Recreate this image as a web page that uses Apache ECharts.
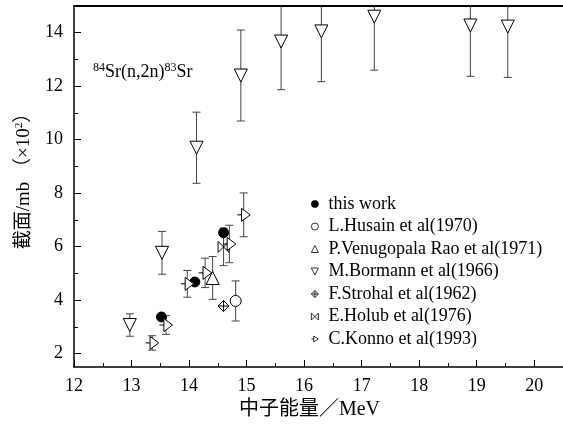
<!DOCTYPE html>
<html>
<head>
<meta charset="utf-8">
<script src="https://cdn.jsdelivr.net/npm/echarts@6/dist/echarts.min.js"></script>
<style>
  html, body { margin: 0; padding: 0; background: #fff; }
  #main { width: 563px; height: 426px; }
</style>
</head>
<body>
<div id="main"></div>
<script>
// energies (MeV), cross sections (x100 mb), errors
var thisWorkE = [13.52, 14.10, 14.60];
var thisWorkS = [3.37, 4.68, 6.52];
var thisWorkErr = [0, 0, 0];

var husainE = [14.81];
var husainS = [3.97];
var husainErr = [0.75];

var raoE = [14.41];
var raoS = [4.83];
var raoErr = [0.8];

var bormannE = [12.97, 13.53, 14.13, 14.90, 15.60, 16.30, 17.22, 18.89, 19.54];
var bormannS = [3.07, 5.77, 9.70, 12.40, 13.67, 14.05, 14.60, 14.27, 14.23];
var bormannErr = [0.42, 0.80, 1.33, 1.70, 1.80, 1.88, 2.00, 1.90, 1.90];

var strohalE = [14.60];
var strohalS = [3.78];
var strohalErr = [0];

var holubE = [14.60];
var holubS = [5.99];
var holubErr = [0.70];

var konnoE = [13.36, 13.60, 13.97, 14.28, 14.70, 14.95];
var konnoS = [2.40, 3.07, 4.61, 5.02, 6.10, 7.19];
var konnoErr = [0.27, 0.35, 0.50, 0.55, 0.70, 0.82];

var names = ['this work', 'L.Husain et al(1970)', 'P.Venugopala Rao et al(1971)',
  'M.Bormann et al(1966)', 'F.Strohal et al(1962)', 'E.Holub et al(1976)', 'C.Konno et al(1993)'];

var xMajor = [12, 13, 14, 15, 16, 17, 18, 19, 20];
var xMinor = [12.5, 13.5, 14.5, 15.5, 16.5, 17.5, 18.5, 19.5];
var yMajor = [2, 4, 6, 8, 10, 12, 14];
var yMinor = [3, 5, 7, 9, 11, 13];

var serif = '"Liberation Serif", "Noto Sans CJK SC", serif';

function pts(E, S) {
  return E.map((e, i) => [e, S[i]]);
}

var errData = [];
[[thisWorkE, thisWorkS, thisWorkErr], [husainE, husainS, husainErr], [raoE, raoS, raoErr],
 [bormannE, bormannS, bormannErr], [strohalE, strohalS, strohalErr], [holubE, holubS, holubErr],
 [konnoE, konnoS, konnoErr]].forEach(set => {
  set[0].forEach((e, i) => {
    if (set[2][i] > 0) errData.push([e, set[1][i] - set[2][i], set[1][i] + set[2][i]]);
  });
});

function renderErr(params, api) {
  var x = api.value(0);
  var lo = api.coord([x, api.value(1)]);
  var hi = api.coord([x, api.value(2)]);
  var w = 4;
  var st = { stroke: '#444', lineWidth: 1 };
  return {
    type: 'group',
    children: [
      { type: 'line', shape: { x1: hi[0], y1: hi[1], x2: lo[0], y2: lo[1] }, style: st },
      { type: 'line', shape: { x1: hi[0] - w, y1: hi[1], x2: hi[0] + w, y2: hi[1] }, style: st },
      { type: 'line', shape: { x1: lo[0] - w, y1: lo[1], x2: lo[0] + w, y2: lo[1] }, style: st }
    ]
  };
}

function scatter(name, data, symbol, size, fill) {
  return {
    name: name,
    type: 'scatter',
    data: data,
    symbol: symbol,
    symbolSize: size,
    itemStyle: { color: fill, borderColor: '#000', borderWidth: 1, opacity: 1 },
    z: 3
  };
}

var myChart = echarts.init(document.getElementById('main'));

var axisLine = { show: true, lineStyle: { color: '#000', width: 1.5 } };

var option = {
  animation: false,
  backgroundColor: '#fff',
  grid: { left: 74, top: 6, width: 493, height: 361 },
  graphic: [{
    type: 'text',
    left: 93,
    top: 62,
    style: {
      text: '{s|84}{n|Sr(n,2n)}{s|83}{n|Sr}',
      rich: {
        n: { fontSize: 18, fontFamily: serif, fill: '#000' },
        s: { fontSize: 12, fontFamily: serif, fill: '#000', padding: [0, 0, 9, 0] }
      }
    }
  }],
  legend: {
    orient: 'vertical',
    left: 306,
    top: 189,
    itemWidth: 7,
    itemHeight: 7,
    itemGap: 2.5,
    data: names,
    itemStyle: { borderWidth: 0.8 },
    textStyle: { fontSize: 18, fontFamily: serif, color: '#000', lineHeight: 20, padding: [0, 0, 0, 5] }
  },
  xAxis: [{
    type: 'value',
    min: 12,
    max: 20.5,
    position: 'bottom',
    name: '中子能量／MeV',
    nameLocation: 'middle',
    nameGap: 33,
    nameTextStyle: { fontSize: 20, fontFamily: serif, color: '#000', padding: [0, 18, 0, 0] },
    axisLine: axisLine,
    axisTick: { show: true, inside: true, length: 7, customValues: xMajor, lineStyle: { color: '#000' } },
    axisLabel: { customValues: xMajor, fontSize: 18, fontFamily: serif, color: '#000', margin: 10 },
    splitLine: { show: false }
  }, {
    type: 'value',
    min: 12,
    max: 20.5,
    position: 'bottom',
    axisLine: { show: false },
    axisTick: { show: true, inside: true, length: 4, customValues: xMinor, lineStyle: { color: '#000' } },
    axisLabel: { show: false },
    splitLine: { show: false }
  }, {
    type: 'value',
    min: 12,
    max: 20.5,
    position: 'top',
    axisLine: { show: true, lineStyle: { color: '#000', width: 2 } },
    axisTick: { show: false },
    axisLabel: { show: false },
    splitLine: { show: false }
  }],
  yAxis: [{
    type: 'value',
    min: 1.5,
    max: 15,
    position: 'left',
    name: '截面/mb （×10{s|2}）',
    nameLocation: 'middle',
    nameRotate: 90,
    nameGap: 40,
    nameTextStyle: {
      fontSize: 19, fontFamily: serif, color: '#000', padding: [0, 0, 0, 20],
      rich: { s: { fontSize: 11, fontFamily: serif, color: '#000', padding: [0, 0, 9, 0] } }
    },
    axisLine: axisLine,
    axisTick: { show: true, inside: true, length: 7, customValues: yMajor, lineStyle: { color: '#000' } },
    axisLabel: { customValues: yMajor, fontSize: 18, fontFamily: serif, color: '#000', margin: 11 },
    splitLine: { show: false }
  }, {
    type: 'value',
    min: 1.5,
    max: 15,
    position: 'left',
    axisLine: { show: false },
    axisTick: { show: true, inside: true, length: 4, customValues: yMinor, lineStyle: { color: '#000' } },
    axisLabel: { show: false },
    splitLine: { show: false }
  }],
  series: [
    {
      name: 'err',
      type: 'custom',
      renderItem: renderErr,
      data: errData,
      clip: true,
      encode: { x: 0, y: [1, 2] },
      z: 2
    },
    scatter(names[0], pts(thisWorkE, thisWorkS), 'circle', 10, '#000'),
    scatter(names[1], pts(husainE, husainS), 'circle', 11, '#fff'),
    scatter(names[2], pts(raoE, raoS), 'path://M0,-1 L1,1 L-1,1 Z', 13, '#fff'),
    scatter(names[3], pts(bormannE, bormannS), 'path://M-1,-1 L1,-1 L0,1 Z', 13, '#fff'),
    scatter(names[4], pts(strohalE, strohalS), 'path://M0,-1 L1,0 L0,1 L-1,0 Z M0,-1 L0,1 M-1,0 L1,0', 11, '#fff'),
    scatter(names[5], pts(holubE, holubS), 'path://M-1,-1 L1,1 M-1,1 L1,-1 M-1,-1 L-1,1 M1,-1 L1,1', 11, '#fff'),
    scatter(names[6], pts(konnoE, konnoS), 'path://M-0.6,-1 L1,0 L-0.6,1 Z M-1.4,0 L-0.6,0', 13, '#fff')
  ]
};

myChart.setOption(option);
</script>
</body>
</html>
